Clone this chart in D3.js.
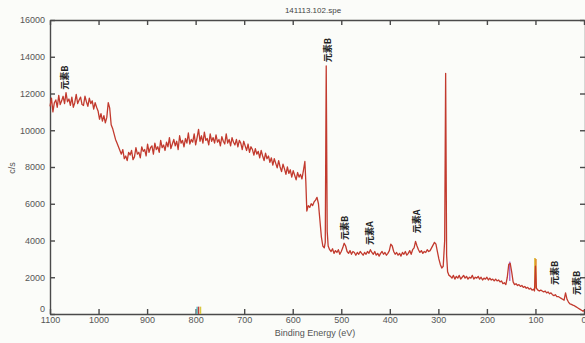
<!DOCTYPE html>
<html>
<head>
<meta charset="utf-8">
<script src="https://cdn.jsdelivr.net/npm/d3@7"></script>
<style>
  body { margin: 0; background: #fbfcf9; }
  svg { display: block; }
  .axis path, .axis line { stroke: #4a4a4a; stroke-width: 1.4; }
  .axis text { fill: #555; font-family: "Liberation Sans", Arial, sans-serif; font-size: 9px; }
</style>
</head>
<body>
<div id="chart"></div>
<script>
// survey spectrum: [binding energy (eV), counts/s]
const spectrum = [
  [1100,11300],[1097,11750],[1094,11000],[1091,11500],[1088,11650],[1085,11250],[1082,11900],[1079,11400],
  [1076,11600],[1073,11850],[1070,11450],[1067,12050],[1064,11550],[1061,11700],[1058,11350],[1055,11800],
  [1052,11250],[1049,11500],[1046,11950],[1043,11450],[1040,11650],[1037,11800],[1034,11400],[1031,11350],
  [1028,11850],[1025,11550],[1022,11300],[1019,11750],[1016,11450],[1013,11600],[1010,11150],[1007,11500],
  [1004,11250],[1001,11050],[998,10600],[995,10900],[992,10500],[989,10800],[986,10400],[983,10700],
  [980,11500],[977,11200],[974,10300],[971,10100],[968,9800],[965,9500],[962,9300],[959,9100],
  [956,8900],[953,8700],[950,8950],[947,8450],[944,8600],[941,8350],[938,8800],[935,8650],
  [932,8900],[929,8400],[926,8550],[923,9050],[920,8700],[917,8800],[914,8500],[911,9100],
  [908,8850],[905,8950],[902,8600],[899,9250],[896,8800],[893,9050],[890,9150],[887,8700],
  [884,9300],[881,8950],[878,9100],[875,8800],[872,9450],[869,9050],[866,9200],[863,8900],
  [860,9350],[857,9100],[854,9600],[851,9000],[848,9250],[845,9500],[842,9150],[839,9400],
  [836,8950],[833,9700],[830,9300],[827,9450],[824,9100],[821,9550],[818,9300],[815,9850],
  [812,9250],[809,9500],[806,9350],[803,9800],[800,9200],[797,9600],[794,10050],[791,9400],
  [788,9700],[785,9300],[782,9900],[779,9450],[776,9550],[773,9200],[770,9800],[767,9400],
  [764,9600],[761,9300],[758,9750],[755,9350],[752,9500],[749,9150],[746,9650],[743,9400],
  [740,9250],[737,9800],[734,9300],[731,9500],[728,9150],[725,9600],[722,9350],[719,9200],
  [716,9500],[713,9100],[710,9450],[707,9300],[704,8950],[701,9400],[698,9150],[695,8900],
  [692,9250],[689,8800],[686,9100],[683,8950],[680,8650],[677,9000],[674,8700],[671,8850],
  [668,8500],[665,8900],[662,8600],[659,8350],[656,8750],[653,8450],[650,8600],[647,8250],
  [644,8500],[641,8100],[638,8450],[635,8200],[632,7950],[629,8350],[626,8000],[623,7750],
  [620,8150],[617,7900],[614,7600],[611,8000],[608,7650],[605,7850],[602,7450],[599,7800],
  [596,7550],[593,7300],[590,7700],[587,7450],[584,7600],[581,7350],[578,7800],[575,8300],
  [573,7200],[571,5600],[568,5900],[565,5800],[562,6000],[559,5900],[556,6100],[553,6200],
  [550,6350],[547,6000],[544,5100],[541,4200],[538,3700],[535,3600],[533,3900],[531,13500],
  [529,4500],[527,3700],[524,3500],[521,3400],[518,3550],[515,3300],[512,3450],[509,3350],
  [506,3500],[503,3250],[500,3400],[497,3600],[494,3850],[491,3700],[488,3400],[485,3300],
  [482,3450],[479,3250],[476,3400],[473,3350],[470,3200],[467,3350],[464,3250],[461,3400],
  [458,3300],[455,3200],[452,3350],[449,3250],[446,3400],[443,3300],[440,3500],[437,3350],
  [434,3250],[431,3400],[428,3200],[425,3300],[422,3150],[419,3300],[416,3400],[413,3250],
  [410,3350],[407,3200],[404,3300],[401,3450],[398,3800],[395,3700],[392,3400],[389,3250],
  [386,3350],[383,3200],[380,3300],[377,3150],[374,3350],[371,3250],[368,3400],[365,3200],
  [362,3300],[359,3450],[356,3250],[353,3500],[350,3600],[347,3950],[344,3700],[341,3500],
  [338,3350],[335,3450],[332,3300],[329,3400],[326,3350],[323,3500],[320,3400],[317,3450],
  [314,3600],[311,3750],[308,3900],[305,3800],[302,3400],[299,3000],[296,2700],[293,2500],
  [290,2600],[287,4000],[285,13100],[283,3200],[281,2300],[278,2100],[275,2050],[272,1950],
  [269,2100],[266,1900],[263,2050],[260,1950],[257,2100],[254,1900],[251,2000],[248,2100],
  [245,1950],[242,2050],[239,1900],[236,2000],[233,1950],[230,2100],[227,1900],[224,2000],
  [221,1950],[218,2050],[215,1900],[212,2000],[209,1850],[206,1950],[203,1900],[200,2000],
  [197,1850],[194,1950],[191,1850],[188,1900],[185,1800],[182,1900],[179,1800],[176,1850],
  [173,1750],[170,1800],[167,1650],[164,1700],[161,1600],[158,2000],[155,2700],[152,2750],
  [149,2300],[146,1750],[143,1600],[140,1650],[137,1550],[134,1600],[131,1500],[128,1550],
  [125,1450],[122,1500],[119,1400],[116,1450],[113,1350],[110,1400],[107,1300],[104,1350],
  [102,1250],[100,2600],[98,1400],[95,1300],[92,1250],[89,1300],[86,1250],[83,1200],
  [80,1250],[77,1150],[74,1200],[71,1100],[68,1150],[65,1050],[62,1000],[59,1050],
  [56,950],[53,950],[50,900],[47,850],[44,800],[41,750],[38,1150],[35,800],
  [32,650],[29,550],[26,520],[23,480],[20,450],[17,400],[14,350],[11,300],
  [8,250],[5,200],[2,150],[0,200]
];

// coloured peak markers: [eV, from cps, to cps, colour]
const markers = [
  [153, 1800, 2850, "#b070d0"],
  [101, 1400, 3050, "#d8b020"],
  [99, 1400, 3000, "#e08a20"],
  [797, 0, 400, "#60c8d0"],
  [794, 0, 400, "#c04040"],
  [790, 0, 400, "#d8c840"]
];

// vertical annotations: [text, eV, cps at text start]
const annotations = [
  ["元素B", 1069, 12200],
  ["元素B", 527, 13700],
  ["元素B", 492, 4030],
  ["元素A", 441, 3750],
  ["元素A", 344, 4400],
  ["元素B", 60, 1580],
  ["元素B", 15, 1030]
];

const xTicks = [1100, 1000, 900, 800, 700, 600, 500, 400, 300, 200, 100, 0];
const yTicks = [0, 2000, 4000, 6000, 8000, 10000, 12000, 14000, 16000];

const W = 585, H = 343;
const svg = d3.select("#chart").append("svg")
    .attr("width", W)
    .attr("height", H);

const x = d3.scaleLinear().domain([1100, 0]).range([50, 584]);
const y = d3.scaleLinear().domain([0, 16000]).range([314, 20]);

// frame axes (ticks point inward)
const xAxis = svg.append("g").attr("class", "axis")
    .attr("transform", `translate(0,${y(0)})`)
    .call(d3.axisBottom(x).tickValues(xTicks).tickSizeInner(-5).tickSizeOuter(0).tickPadding(3).tickFormat(d3.format("d")));
// last label sits on the edge, keep it inside
xAxis.selectAll(".tick text").filter(d => d === 0).attr("text-anchor", "end").attr("x", 2);

svg.append("g").attr("class", "axis")
    .attr("transform", `translate(0,${y(16000)})`)
    .call(d3.axisTop(x).tickValues(xTicks).tickSizeInner(-5).tickSizeOuter(0).tickFormat(""));

const yAxis = svg.append("g").attr("class", "axis")
    .attr("transform", `translate(${x(1100)},0)`)
    .call(d3.axisLeft(y).tickValues(yTicks).tickSizeInner(-5).tickSizeOuter(0).tickPadding(5).tickFormat(d3.format("d")));
yAxis.selectAll(".tick text").filter(d => d === 0).attr("y", -5);

svg.append("g").attr("class", "axis")
    .attr("transform", `translate(585,0)`)
    .call(d3.axisRight(y).tickValues(yTicks).tickSizeInner(-5).tickSizeOuter(0).tickFormat(""));

// markers
svg.selectAll(".marker")
    .data(markers)
    .enter().append("line")
    .attr("class", "marker")
    .attr("x1", d => x(d[0])).attr("x2", d => x(d[0]))
    .attr("y1", d => y(d[1])).attr("y2", d => y(d[2]))
    .attr("stroke", d => d[3])
    .attr("stroke-width", 1.5);

// spectrum
const line = d3.line()
    .x(d => x(d[0]))
    .y(d => y(d[1]));

svg.append("path")
    .datum(spectrum)
    .attr("fill", "none")
    .attr("stroke", "#c23a2e")
    .attr("stroke-width", 1.3)
    .attr("stroke-linejoin", "round")
    .attr("d", line);

// annotations
svg.selectAll(".anno")
    .data(annotations)
    .enter().append("text")
    .attr("class", "anno")
    .attr("transform", d => `translate(${x(d[1])},${y(d[2])}) rotate(-90)`)
    .attr("dy", "0.35em")
    .attr("font-family", "'Noto Sans CJK SC', sans-serif")
    .attr("font-size", "9px")
    .attr("font-weight", "bold")
    .attr("fill", "#222")
    .text(d => d[0]);

// title and axis labels
svg.append("text")
    .attr("x", 313).attr("y", 13)
    .attr("text-anchor", "middle")
    .attr("font-family", "'Liberation Sans', Arial, sans-serif")
    .attr("font-size", "8px")
    .attr("fill", "#444")
    .text("141113.102.spe");

svg.append("text")
    .attr("x", 315).attr("y", 336)
    .attr("text-anchor", "middle")
    .attr("font-family", "'Liberation Sans', Arial, sans-serif")
    .attr("font-size", "9px")
    .attr("fill", "#555")
    .text("Binding Energy (eV)");

svg.append("text")
    .attr("transform", "translate(15,168) rotate(-90)")
    .attr("text-anchor", "middle")
    .attr("font-family", "'Liberation Sans', Arial, sans-serif")
    .attr("font-size", "9px")
    .attr("fill", "#555")
    .text("c/s");
</script>
</body>
</html>
